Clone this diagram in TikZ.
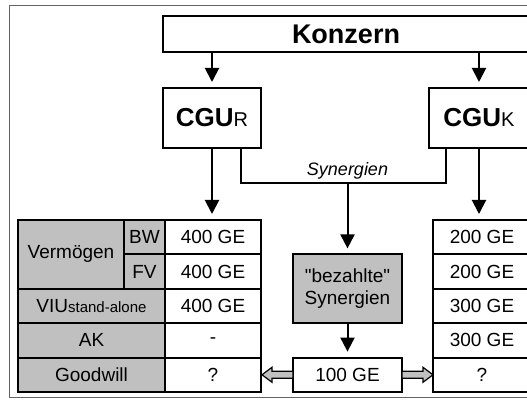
\documentclass[tikz,border=0pt]{standalone}
\usepackage{fontspec}
\setmainfont{Liberation Sans}[Ligatures=TeXOff]
\usepackage{tikz}
\usetikzlibrary{arrows.meta,calc,positioning}
\definecolor{cellgray}{RGB}{192,192,192}
\definecolor{framegray}{RGB}{100,100,100}
\newcommand{\cgu}[1]{{\bfseries\fontsize{26}{30}\selectfont CGU}{\fontsize{20}{24}\selectfont #1}}

\begin{document}
\begin{tikzpicture}
              [x=1pt,y=1pt,
                every node/.style={rectangle,draw,line width=2pt,inner sep=0pt,outer sep=0pt,font=\fontsize{19}{22}\selectfont},
                shaded/.style={fill=cellgray},
                cell/.style={minimum height=34.4pt},
                word/.style={draw=none,fill=none},
                arr/.style={line width=2pt,-{Triangle[width=14pt,length=14pt]},shorten >=6pt},
                link/.style={line width=2pt},
                block/.style={line width=1.2pt,draw=black,fill=cellgray}]
              \useasboundingbox (0,0) rectangle (527,399);
              \clip (0,0) rectangle (527,399);
              \draw[framegray,line width=1pt] (9,393) rectangle (560,2);
              % top
              \node[minimum width=366pt,minimum height=36pt,font=\bfseries\fontsize{27}{30}\selectfont] (konzern) at (346,365) {Konzern};
              \node[minimum width=98pt,minimum height=60pt] (cgur) at (212,281) {\cgu{R}};
              \node[minimum width=100pt,minimum height=60pt] (cguk) at (479,281) {\cgu{K}};
              % left table
              \node[cell,minimum width=96pt] (l1) at (213,161.8) {400 GE};
              \node[cell,minimum width=96pt] (l2) [below=0pt of l1] {400 GE};
              \node[cell,minimum width=96pt] (l3) [below=0pt of l2] {400 GE};
              \node[cell,minimum width=96pt] (l4) [below=0pt of l3] {-};
              \node[cell,minimum width=96pt] (l5) [below=0pt of l4] {?};
              \node[cell,shaded,minimum width=41pt] (bw) [left=0pt of l1] {BW};
              \node[cell,shaded,minimum width=41pt] (fv) [left=0pt of l2] {FV};
              \node[shaded,minimum width=106pt,minimum height=68.8pt,anchor=north east] (verm) at (bw.north west) {Verm\"ogen};
              \node[cell,shaded,minimum width=147pt] (viu) [left=0pt of l3] {VIU{\fontsize{15}{17}\selectfont stand-alone}};
              \node[cell,shaded,minimum width=147pt] (ak) [left=0pt of l4] {AK};
              \node[cell,shaded,minimum width=147pt] (gw) [left=0pt of l5] {Goodwill};
              % right table
              \node[cell,minimum width=98pt] (r1) at (482,161.8) {200 GE};
              \node[cell,minimum width=98pt] (r2) [below=0pt of r1] {200 GE};
              \node[cell,minimum width=98pt] (r3) [below=0pt of r2] {300 GE};
              \node[cell,minimum width=98pt] (r4) [below=0pt of r3] {300 GE};
              \node[cell,minimum width=98pt] (r5) [below=0pt of r4] {?};
              % middle
              \node[shaded,align=center,minimum width=109pt,minimum height=68.8pt] (paid) at (347.5,110.2) {"bezahlte"\\Synergien};
              \node[cell,minimum width=109pt] (hundred) [below=34.4pt of paid] {100 GE};
              \coordinate (sync) at (paid.north |- 0,216);
              \node[word,anchor=base,font=\itshape\fontsize{18}{20}\selectfont] (synlabel) at (sync |- 0,223) {Synergien};
              \draw[link] ($(cgur.south)+(29,0)$) |- (sync) -| ($(cguk.south)+(-33,0)$);
              \foreach \from/\to in {konzern.south -| cgur/cgur.north,konzern.south -| cguk/cguk.north,
                cgur.south/cgur.south |- l1.north,cguk.south/cguk.south |- r1.north,sync/paid.north,paid.south/hundred.north}
              \draw[arr] (\from) -- (\to);
              \filldraw[block] (hundred.west) ++(0,3.5) -- ++(-21,0) -- ++(0,4) -- ++(-10,-7.5) -- ++(10,-7.5) -- ++(0,4) -- ++(21,0) -- cycle;
              \filldraw[block] (hundred.east) ++(0,3.5) -- ++(21,0) -- ++(0,4) -- ++(10,-7.5) -- ++(-10,-7.5) -- ++(0,4) -- ++(-21,0) -- cycle;
            \end{tikzpicture}
\end{document}
